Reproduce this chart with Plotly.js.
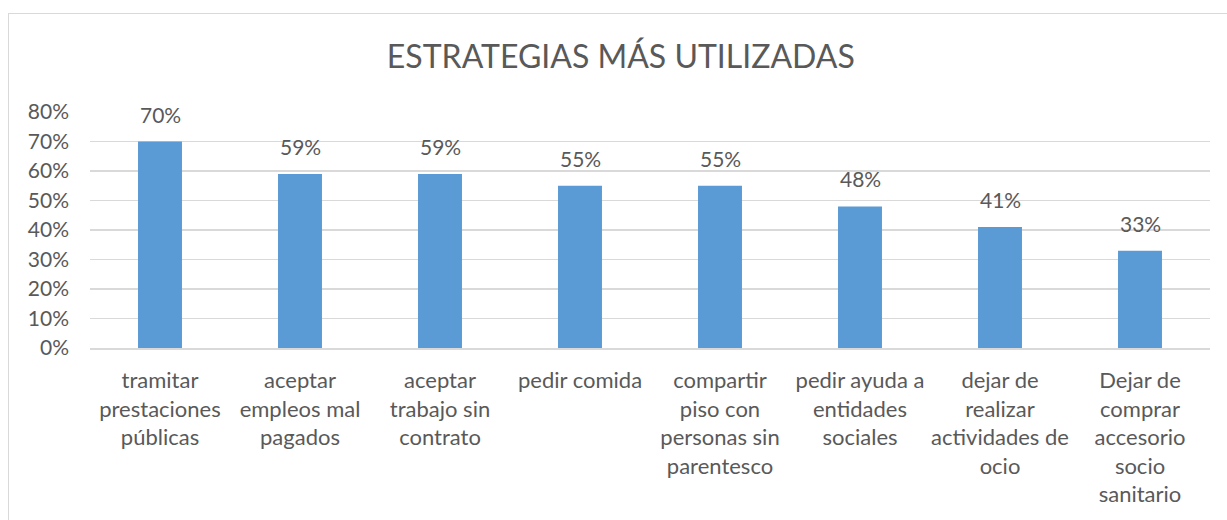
<!DOCTYPE html>
<html>
<head>
<meta charset="utf-8">
<script src="https://cdn.plot.ly/plotly-3.0.1.min.js"></script>
<style>
  html, body { margin: 0; padding: 0; background: #ffffff; overflow: hidden; }
  #frame { position: absolute; left: 8px; top: 13px; width: 1300px; height: 600px;
           border: 1.5px solid #d9d9d9; box-sizing: border-box; z-index: 0; }
  #chart { position: absolute; left: 0; top: 0; width: 1227px; height: 520px; z-index: 1; }
</style>
</head>
<body>
<div id="frame"></div>
<div id="chart"></div>
<script>
const titleText = "ESTRATEGIAS MÁS UTILIZADAS";
const categories = [
  "tramitar<br>prestaciones<br>públicas",
  "aceptar<br>empleos mal<br>pagados",
  "aceptar<br>trabajo sin<br>contrato",
  "pedir comida",
  "compartir<br>piso con<br>personas sin<br>parentesco",
  "pedir ayuda a<br>entidades<br>sociales",
  "dejar de<br>realizar<br>actividades de<br>ocio",
  "Dejar de<br>comprar<br>accesorio<br>socio<br>sanitario"
];
const values = [0.70, 0.59, 0.59, 0.55, 0.55, 0.48, 0.41, 0.33];
const yTickVals = [0, 0.1, 0.2, 0.3, 0.4, 0.5, 0.6, 0.7, 0.8];
const yTickText = ["0%", "10%", "20%", "30%", "40%", "50%", "60%", "70%", "80%"];

const FONT = "Lato, 'Open Sans', sans-serif";
const TXT = "#595959";

const trace = {
  type: "bar",
  x: categories,
  y: values,
  marker: { color: "#5B9BD5" },
  hoverinfo: "none"
};

const annotations = categories.map((c, i) => ({
  x: c, y: values[i], xref: "x", yref: "y",
  text: Math.round(values[i] * 100) + "%",
  showarrow: false, yanchor: "bottom", yshift: 13,
  font: { family: FONT, size: 21, color: TXT }
}));

const layout = {
  width: 1227, height: 520,
  margin: { l: 90, r: 17, t: 112, b: 172 },
  paper_bgcolor: "rgba(0,0,0,0)",
  plot_bgcolor: "rgba(0,0,0,0)",
  bargap: 0.686,
  showlegend: false,
  title: {
    text: titleText,
    font: { family: FONT, size: 32, color: TXT },
    xref: "container", yref: "container",
    x: 0.506, y: 1 - 57 / 520, xanchor: "center", yanchor: "middle"
  },
  xaxis: {
    type: "category",
    showgrid: false,
    showline: true, linecolor: "#d9d9d9", linewidth: 1.5,
    ticks: "",
    tickfont: { family: FONT, size: 22, color: TXT },
    ticklabelstandoff: 12,
    tickangle: 0,
    automargin: false
  },
  yaxis: {
    range: [0, 0.8001],
    tickvals: yTickVals,
    ticktext: yTickText,
    showgrid: true, gridcolor: "#d9d9d9", gridwidth: 1.5,
    zeroline: false,
    showline: false,
    ticks: "",
    tickfont: { family: FONT, size: 21, color: TXT },
    ticklabelstandoff: 20,
    automargin: false
  },
  annotations: annotations
};

Plotly.newPlot("chart", [trace], layout, { displayModeBar: false, staticPlot: true });
</script>
</body>
</html>
